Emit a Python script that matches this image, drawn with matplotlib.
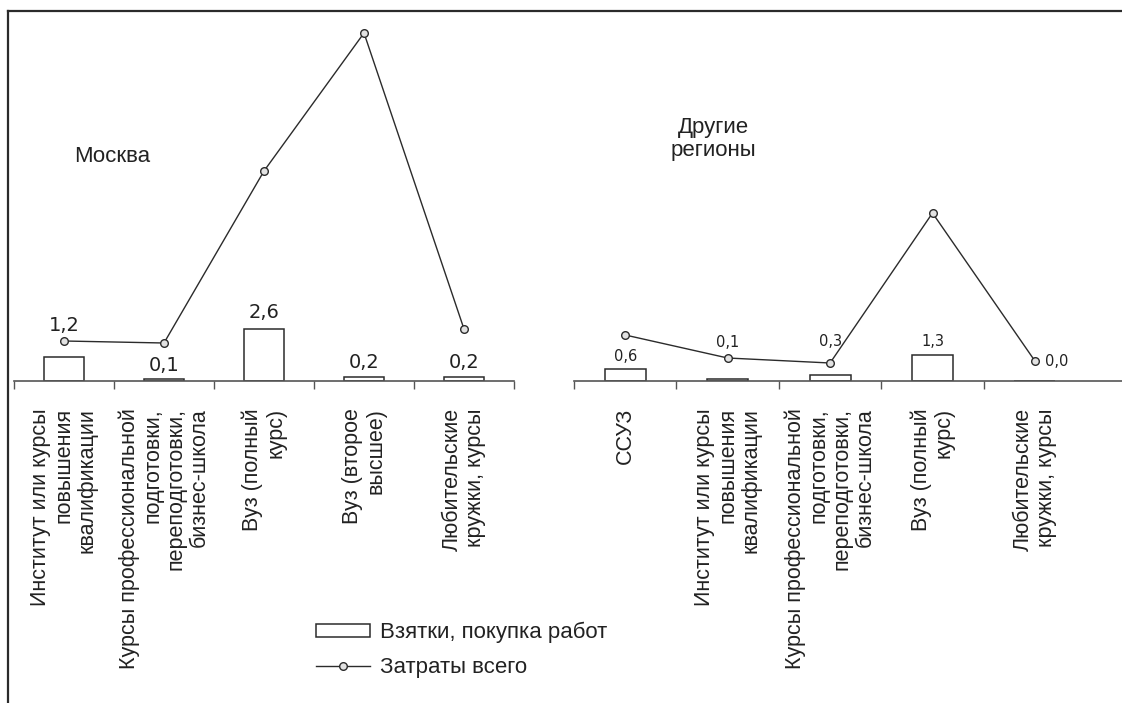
import matplotlib
matplotlib.use('Agg')
import matplotlib.pyplot as plt
from matplotlib.lines import Line2D
from matplotlib.patches import Patch
import numpy as np

plt.rcParams['font.family'] = ['Liberation Sans', 'DejaVu Sans']

# Москва
cats_msk = ['Институт или курсы\nповышения\nквалификации',
            'Курсы профессиональной\nподготовки,\nпереподготовки,\nбизнес-школа',
            'Вуз (полный\nкурс)',
            'Вуз (второе\nвысшее)',
            'Любительские\nкружки, курсы']
bribes_msk = [1.2, 0.1, 2.6, 0.2, 0.2]
total_msk = [2.0, 1.9, 10.5, 17.4, 2.6]

# Другие регионы
cats_reg = ['ССУЗ',
            'Институт или курсы\nповышения\nквалификации',
            'Курсы профессиональной\nподготовки,\nпереподготовки,\nбизнес-школа',
            'Вуз (полный\nкурс)',
            'Любительские\nкружки, курсы']
bribes_reg = [0.6, 0.1, 0.3, 1.3, 0.0]
total_reg = [2.3, 1.15, 0.9, 8.4, 1.0]

# where the value labels sit
lbl_x_shift_reg = [0, 0, 0, 0, 0.21]
lbl_y_msk = [2.5, 0.52, 3.13, 0.63, 0.63]
lbl_y_reg = [1.0, 1.68, 1.77, 1.77, 0.77]

W, H = 1122, 703
fig = plt.figure(figsize=(W / 100, H / 100), dpi=100)

base = (H - 381) / H
top = (H - 11) / H
ax1 = fig.add_axes([14 / W, base, 500 / W, top - base])
ax2 = fig.add_axes([574 / W, base, (W - 574) / W, top - base])

edge = '#2b2b2b'
txt = '#222222'


def draw_panel(ax, cats, bribes, total, lbl_x, lbl_y, lbl_size, xmax, nminor):
    x = np.arange(len(cats))
    ax.bar(x, bribes, width=0.4, color='white', edgecolor=edge, linewidth=1.1, zorder=2)
    ax.plot(x, total, color=edge, linewidth=1, marker='o', markersize=5.5,
            markerfacecolor='#e2e2e2', markeredgecolor=edge, markeredgewidth=1, zorder=3)
    for i, v in enumerate(bribes):
        ax.text(x[i] + lbl_x[i], lbl_y[i], f'{v:.1f}'.replace('.', ','),
                ha='center', va='baseline', fontsize=lbl_size,
                family='DejaVu Sans', color=txt)
    ax.set_xlim(-0.5, xmax)
    ax.set_ylim(0, 18.5)
    ax.set_xticks(x)
    ax.set_xticklabels(cats)
    ax.set_xticks(np.arange(-0.5, -0.5 + nminor, 1), minor=True)
    ax.tick_params(axis='x', which='major', length=0, pad=19.5)
    ax.tick_params(axis='x', which='minor', length=6, width=1, color='#555555')
    plt.setp(ax.get_xticklabels(), rotation=90, ha='center', va='top',
             multialignment='right', fontsize=15.5, color=txt, linespacing=1.15)
    ax.set_yticks([])
    for s in ['top', 'left', 'right']:
        ax.spines[s].set_visible(False)
    ax.spines['bottom'].set_color('#555555')
    ax.spines['bottom'].set_linewidth(1.2)
    ax.patch.set_alpha(0)


draw_panel(ax1, cats_msk, bribes_msk, total_msk, [0] * 5, lbl_y_msk, 14, 4.5, 6)
draw_panel(ax2, cats_reg, bribes_reg, total_reg, lbl_x_shift_reg, lbl_y_reg, 10.5, 4.85, 5)

ax1.text(0.48, 11.2, 'Москва', ha='center', va='center', fontsize=16, color=txt)
ax2.text(0.86, 12.1, 'Другие\nрегионы', ha='center', va='center', fontsize=16,
         color=txt, linespacing=1.12)

# frame (top and left only, like the scan)
fig.add_artist(Line2D([8 / W, 1], [top, top], transform=fig.transFigure, color=edge, lw=1.6))
fig.add_artist(Line2D([8 / W, 8 / W], [0, top], transform=fig.transFigure, color=edge, lw=1.6))

handles = [Patch(facecolor='white', edgecolor=edge, linewidth=1.1),
           Line2D([], [], color=edge, lw=1, marker='o', markersize=5.5,
                  markerfacecolor='#e2e2e2', markeredgecolor=edge)]
fig.legend(handles, ['Взятки, покупка работ', 'Затраты всего'],
           loc='center left', bbox_to_anchor=(316 / W, 1 - 650 / H),
           frameon=False, fontsize=16, handlelength=2.45, handleheight=0.5,
           handletextpad=0.45, labelspacing=0.62, borderpad=0, borderaxespad=0,
           numpoints=1, labelcolor=txt)

fig.savefig('out.png', dpi=100)
